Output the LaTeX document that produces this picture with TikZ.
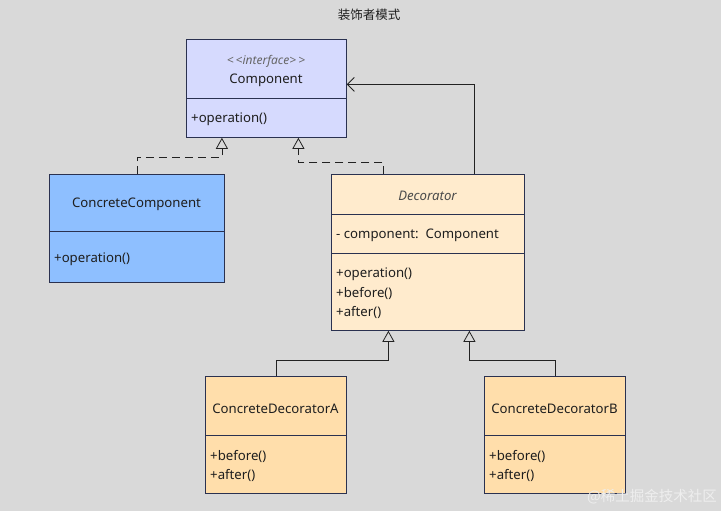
\documentclass[tikz,border=0pt]{standalone}
\usepackage{fontspec}
\setmainfont{Noto Sans}
\newfontfamily\cjk{Noto Sans CJK SC}
\usetikzlibrary{arrows.meta}
\definecolor{bg}{HTML}{D9D9D9}
\definecolor{border}{HTML}{2A3150}
\definecolor{compfill}{HTML}{D6DAFE}
\definecolor{ccfill}{HTML}{8EBFFF}
\definecolor{decfill}{HTML}{FFEBCD}
\definecolor{cdfill}{HTML}{FFDEAB}
\definecolor{txt}{HTML}{1E1E1E}
\definecolor{linec}{HTML}{222222}
\tikzset{
  cls/.style={draw=border, line width=0.8pt, anchor=north west, inner sep=0pt},
  divline/.style={draw=border, line width=0.8pt},
  lbl/.style={inner sep=0pt, text=txt, font=\fontsize{13.2}{15}\selectfont, yshift=-1.5pt},
  lft/.style={lbl, anchor=west},
  realize/.style={draw=linec, line width=0.8pt, dash pattern=on 8pt off 5pt, -{Triangle[open, length=11pt, width=12pt, line width=0.8pt]}},
  inherit/.style={draw=linec, line width=0.8pt, -{Triangle[open, length=11pt, width=12pt, line width=0.8pt]}},
  assoc/.style={draw=linec, line width=0.8pt, -{Straight Barb[length=7pt, width=14pt, line width=0.8pt]}},
}
\begin{document}
\begin{tikzpicture}[x=1pt, y=-1pt]
\fill[bg] (0,0) rectangle (721,511);
\useasboundingbox (0,0) rectangle (721,511);

\node[lbl, font=\cjk\fontsize{12.5}{14}\selectfont] (title) at (369,13) {装饰者模式};

% Component
\node[cls, fill=compfill, minimum width=160pt, minimum height=98pt] (comp) at (186,39) {};
\draw[divline] (186,98) -- (346,98);
\node[lbl, font=\itshape\fontsize{12}{14}\selectfont, text=black!60] (compst) at (266,60) {{<}\,{<}interface{>}\,{>}};
\node[lbl] (compname) at (266,79) {Component};
\node[lft] (compop) at (191,118) {+operation()};

% ConcreteComponent
\node[cls, fill=ccfill, minimum width=175pt, minimum height=108pt] (cc) at (49,174) {};
\draw[divline] (49,231) -- (224,231);
\node[lbl] (ccname) at (136.5,203) {ConcreteComponent};
\node[lft] (ccop) at (54,258) {+operation()};

% Decorator
\node[cls, fill=decfill, minimum width=193pt, minimum height=156pt] (dec) at (331,174) {};
\draw[divline] (331,214) -- (524,214);
\draw[divline] (331,253) -- (524,253);
\node[lbl, font=\itshape\fontsize{13.2}{15}\selectfont, text=black!70] (decname) at (427.5,194) {Decorator};
\node[lft] (decattr) at (336,234) {- component:\ \ Component};
\node[lft] (decop1) at (336,273) {+operation()};
\node[lft] (decop2) at (336,292) {+before()};
\node[lft] (decop3) at (336,311) {+after()};

% ConcreteDecoratorA
\node[cls, fill=cdfill, minimum width=141pt, minimum height=117pt] (cda) at (205,376) {};
\draw[divline] (205,435) -- (346,435);
\node[lbl] (cdaname) at (275.5,407) {ConcreteDecoratorA};
\node[lft] (cdaop1) at (210,455) {+before()};
\node[lft] (cdaop2) at (210,474) {+after()};

% ConcreteDecoratorB
\node[cls, fill=cdfill, minimum width=141pt, minimum height=117pt] (cdb) at (484,376) {};
\draw[divline] (484,435) -- (625,435);
\node[lbl] (cdbname) at (554.5,407) {ConcreteDecoratorB};
\node[lft] (cdbop1) at (489,455) {+before()};
\node[lft] (cdbop2) at (489,474) {+after()};

% connectors
\draw[realize] (cc.north) -- ++(0,-17) -| ([xshift=-44.5pt]comp.south);
\draw[realize] ([xshift=-44.5pt]dec.north) -- ++(0,-12) -| ([xshift=32pt]comp.south);
\draw[assoc] ([xshift=46.5pt]dec.north) |- ([yshift=4pt]comp.east);
\draw[inherit] (cda.north) -- ++(0,-16) -| ([xshift=-39.5pt]dec.south);
\draw[inherit] (cdb.north) -- ++(0,-16) -| ([xshift=41.5pt]dec.south);

% watermark
\node[inner sep=0pt, text=white!55!bg, font=\cjk\fontsize{14.5}{16}\selectfont, anchor=east] (wm) at (717,497) {@稀土掘金技术社区};
\end{tikzpicture}
\end{document}
